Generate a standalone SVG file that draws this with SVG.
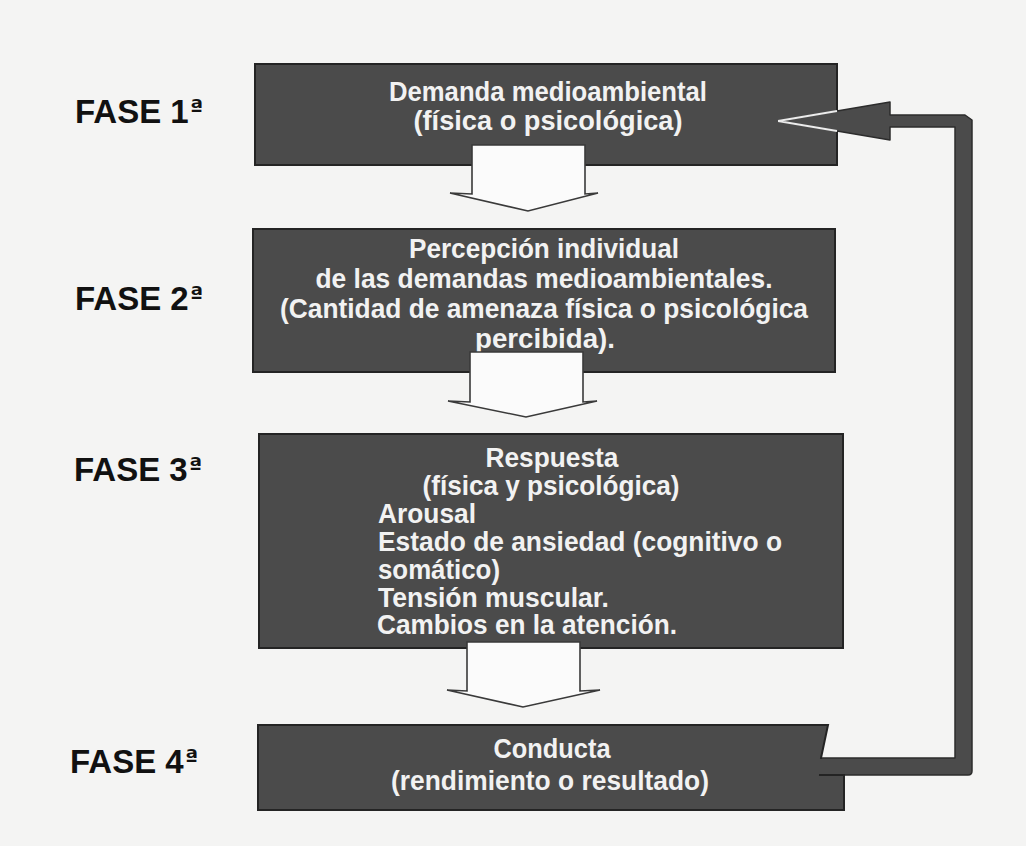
<svg xmlns="http://www.w3.org/2000/svg" width="1026" height="846" viewBox="0 0 1026 846">
  <defs>
    <style>
      .box { fill: #4b4b4b; stroke: #242424; stroke-width: 2; }
      .arrow { fill: #fbfbfb; stroke: #3a3a3a; stroke-width: 1.6; stroke-linejoin: miter; }
      .t { font-family: "Liberation Sans", Arial, sans-serif; font-weight: bold; font-size: 27px; fill: #f2f2f2; }
      .c { text-anchor: middle; }
      .fase { font-family: "Liberation Sans", Arial, sans-serif; font-weight: bold; font-size: 33px; fill: #111; }
      .ord { font-family: "DejaVu Sans", sans-serif; font-weight: bold; font-size: 24px; }
      .band { fill: #4b4b4b; stroke: #2c2c2c; stroke-width: 1.5; stroke-linejoin: round; }
    </style>
  </defs>
  <rect width="1026" height="846" fill="#f4f4f3"/>

  <g id="labels">
    <text class="fase" x="75" y="123">FASE 1<tspan class="ord" dx="1" dy="-7">ª</tspan></text>
    <text class="fase" x="75" y="310">FASE 2<tspan class="ord" dx="1" dy="-7">ª</tspan></text>
    <text class="fase" x="74" y="481">FASE 3<tspan class="ord" dx="1" dy="-7">ª</tspan></text>
    <text class="fase" x="70" y="773">FASE 4<tspan class="ord" dx="1" dy="-7">ª</tspan></text>
  </g>

  <g id="node1">
    <rect class="box" x="255" y="64" width="582" height="101"/>
    <text class="t c" x="548" y="101" textLength="318" lengthAdjust="spacingAndGlyphs">Demanda medioambiental</text>
    <text class="t c" x="548" y="130" textLength="269" lengthAdjust="spacingAndGlyphs">(física o psicológica)</text>
  </g>

  <g id="node2">
    <rect class="box" x="253" y="229" width="582" height="143"/>
    <text class="t c" x="544" y="258" textLength="270" lengthAdjust="spacingAndGlyphs">Percepción individual</text>
    <text class="t c" x="544" y="288" textLength="457" lengthAdjust="spacingAndGlyphs">de las demandas medioambientales.</text>
    <text class="t c" x="544" y="318" textLength="528" lengthAdjust="spacingAndGlyphs">(Cantidad de amenaza física o psicológica</text>
    <text class="t c" x="545" y="348" textLength="140" lengthAdjust="spacingAndGlyphs">percibida).</text>
  </g>

  <g id="node3">
    <rect class="box" x="259" y="434" width="584" height="214"/>
    <text class="t c" x="552" y="467" textLength="133" lengthAdjust="spacingAndGlyphs">Respuesta</text>
    <text class="t c" x="551" y="495" textLength="257" lengthAdjust="spacingAndGlyphs">(física y psicológica)</text>
    <text class="t" x="378" y="523" textLength="98" lengthAdjust="spacingAndGlyphs">Arousal</text>
    <text class="t" x="378" y="551" textLength="404" lengthAdjust="spacingAndGlyphs">Estado de ansiedad (cognitivo o</text>
    <text class="t" x="378" y="579" textLength="122" lengthAdjust="spacingAndGlyphs">somático)</text>
    <text class="t" x="378" y="607" textLength="231" lengthAdjust="spacingAndGlyphs">Tensión muscular.</text>
    <text class="t" x="377" y="634" textLength="300" lengthAdjust="spacingAndGlyphs">Cambios en la atención.</text>
  </g>

  <g id="connectors">
    <path class="arrow" d="M472,145 H585 V194 L598,193 L528,211 L450,193 L472,194 Z"/>
    <path class="arrow" d="M470,352 H583 V402 L597,401 L526,417 L448,401 L470,402 Z"/>
    <path class="arrow" d="M467,642 H580 V691 L600,690 L523,707 L447,690 L467,691 Z"/>
    <path class="band" d="M820,758 H955 V127 H890 V140 L778,121 L890,102 V115 H965 L972,120 V771 Q972,775 968,775 H830 Z"/>
    <path d="M778,121 L837,110.9 M778,121 L837,131.1" stroke="#ececec" stroke-width="2" fill="none"/>
  </g>

  <g id="node4">
    <path class="box" d="M258,725 H828 L821,758 L820,775 H844 V810 H258 Z"/>
    <rect x="815" y="759" width="40" height="15" fill="#4b4b4b"/>
    <text class="t c" x="552" y="758" textLength="117" lengthAdjust="spacingAndGlyphs">Conducta</text>
    <text class="t c" x="550" y="790" textLength="318" lengthAdjust="spacingAndGlyphs">(rendimiento o resultado)</text>
  </g>
</svg>
